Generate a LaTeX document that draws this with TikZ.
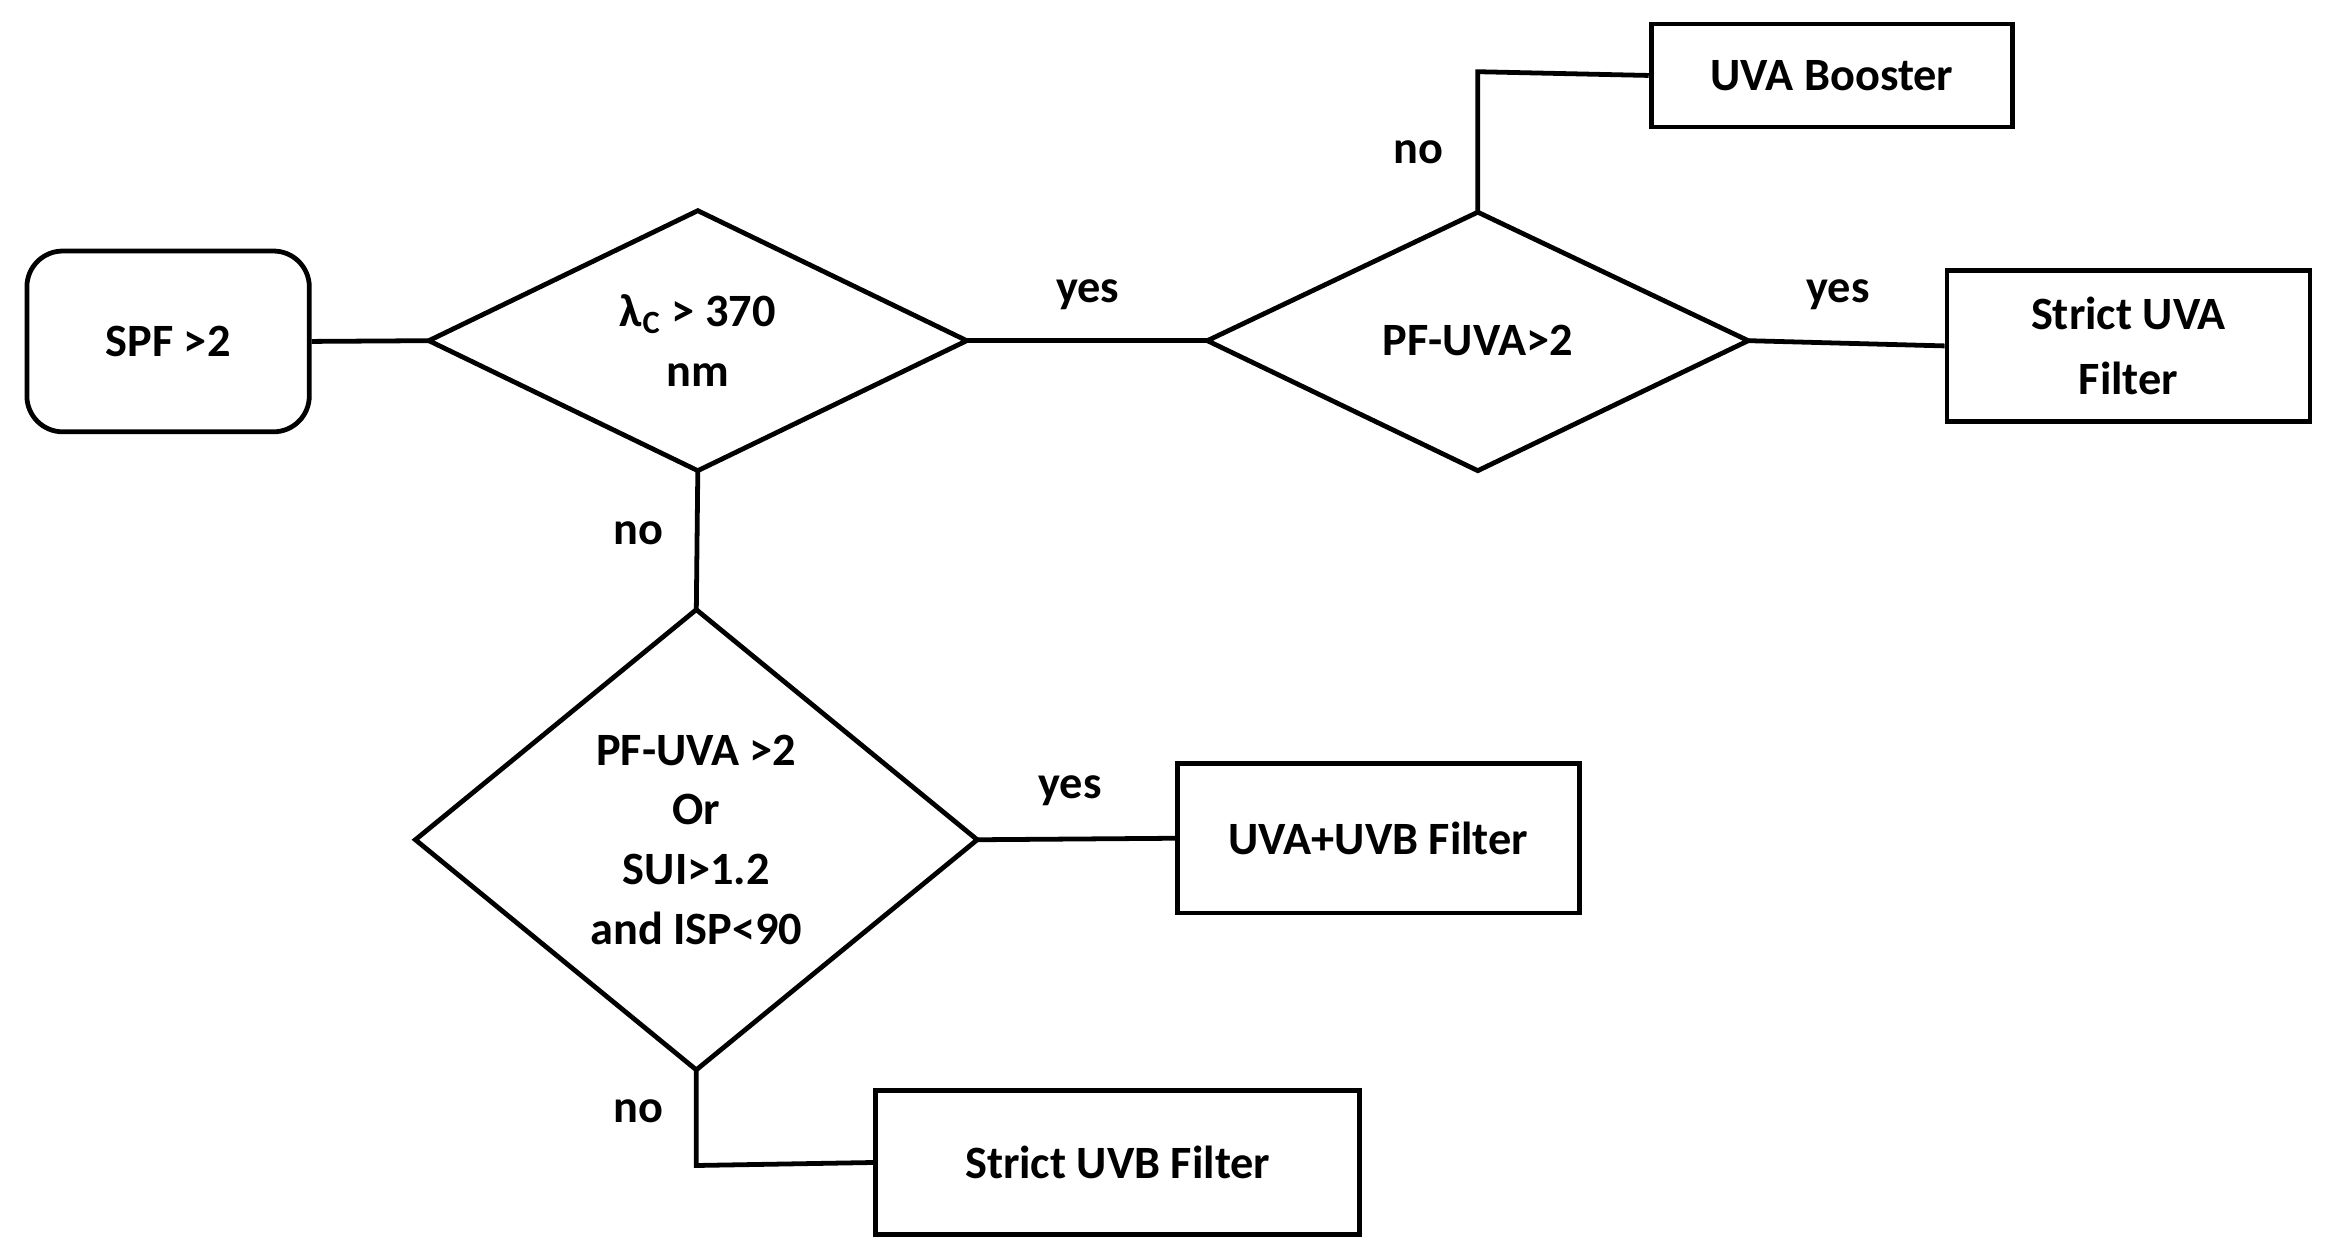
\documentclass[tikz,border=0pt]{standalone}
\usepackage{fontspec}
\setmainfont{Carlito}
\begin{document}
\begin{tikzpicture}[x=0.5pt,y=-0.5pt,line width=1.6pt,
  box/.style={draw,thick,line width=1.6pt,minimum height=#1,inner sep=0pt,align=center,font=\fontsize{15.5}{20}\selectfont\bfseries},
  dia/.style={draw,line width=1.6pt,line join=miter},
  lbl/.style={font=\fontsize{15.5}{20}\selectfont\bfseries,align=center},
  conn/.style={line width=1.6pt}]
\useasboundingbox (0,0) rectangle (1560,838.6);
% boxes
\node[box=60.5pt,minimum width=94.5pt,rounded corners=12pt] (spf) at (112.5,228.5) {SPF >2};
\node[box=34.5pt,minimum width=121pt] (boost) at (1226,50.5) {UVA Booster};
\node[box=50.5pt,minimum width=121.5pt] (suva) at (1424.5,231.5) {Strict UVA\\[2pt]Filter};
\node[box=50pt,minimum width=134.5pt] (uvab) at (922.5,561) {UVA+UVB Filter};
\node[box=48pt,minimum width=162pt] (suvb) at (748,778) {Strict UVB Filter};
% diamonds
\coordinate (d1w) at (287,228); \coordinate (d1e) at (647,228);
\coordinate (d1n) at (467,141); \coordinate (d1s) at (467,315);
\draw[dia] (d1w)--(d1n)--(d1e)--(d1s)--cycle;
\node[lbl] (d1) at (467,228) {λ\textsubscript{C} > 370\\nm};
\coordinate (d2w) at (808,228); \coordinate (d2e) at (1170,228);
\coordinate (d2n) at (989,142); \coordinate (d2s) at (989,315);
\draw[dia] (d2w)--(d2n)--(d2e)--(d2s)--cycle;
\node[lbl] (d2) at (989,228) {PF-UVA>2};
\coordinate (d3w) at (278,562); \coordinate (d3e) at (654,562);
\coordinate (d3n) at (466,408); \coordinate (d3s) at (466,716);
\draw[dia] (d3w)--(d3n)--(d3e)--(d3s)--cycle;
\node[lbl] (d3) at (466,562) {PF-UVA >2\\Or\\SUI>1.2\\and ISP<90};
% connectors
\coordinate (c1) at (989,48);
\coordinate (c2) at (466,780);
\draw[conn] (spf.east) -- (d1w);
\draw[conn] (d1e) -- (d2w);
\draw[conn] (d2n) -- (c1) -- (boost.west);
\draw[conn] (d2e) -- (suva.west);
\draw[conn] (d1s) -- (d3n);
\draw[conn] (d3e) -- (uvab.west);
\draw[conn] (d3s) -- (c2) -- (suvb.west);
% labels
\node[lbl] (l1) at (728,197) {yes};
\node[lbl] (l2) at (949,102) {no};
\node[lbl] (l3) at (1230,197) {yes};
\node[lbl] (l4) at (427,357) {no};
\node[lbl] (l5) at (716,529) {yes};
\node[lbl] (l6) at (427,744) {no};
\end{tikzpicture}
\end{document}
